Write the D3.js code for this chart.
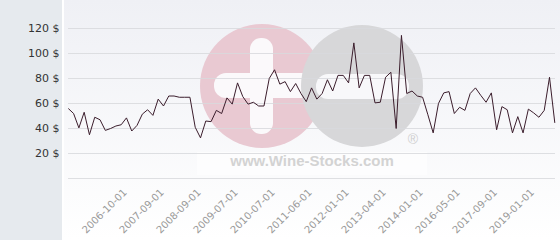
<!DOCTYPE html>
<html><head><meta charset="utf-8">
<script src="https://cdn.jsdelivr.net/npm/d3@7"></script>
<style>html,body{margin:0;padding:0;background:#fff;} svg{display:block;}</style>
</head><body>
<svg id="chart" width="560" height="240"></svg>
<script>
// price per point (USD), evenly spaced categories
const prices = [56,52,40.5,53,35,49,47,38.5,40,42,43,48.5,38,42.5,51.5,55,50.5,63.5,58,66,
  66,65,65,65,41,32.5,46,45.5,54.5,52,64.5,59.5,76.5,65.5,59.5,61,58,58,80,87,
  75.5,77.5,69.5,76,68,61.5,72.5,63.5,68,79,70,82.5,82.5,76.5,108.5,72.5,82.5,82.5,60.5,61,
  81,85,40,114.5,68,70,66,65,51,36.5,60,68.5,69.5,52,57,54.5,68,72.5,66.5,61,
  68.5,39,57.5,55,36.5,49.5,36.5,55.5,52.5,49,54.5,81,44.5];
const tickIndex = [11,18,25,32,39,46,53,60,67,74,81,88];
const tickLabels = ["2006-10-01","2007-09-01","2008-09-01","2009-07-01","2010-07-01","2011-06-01",
  "2012-01-01","2013-04-01","2014-01-01","2016-05-01","2017-09-01","2019-01-01"];
const yTicks = [0,20,40,60,80,100,120];
const watermark = "www.Wine-Stocks.com";

const svg = d3.select("#chart");
const W = 560, H = 240;
const defs = svg.append("defs");
const grad = defs.append("linearGradient").attr("id","bg").attr("x1",0).attr("y1",0).attr("x2",0).attr("y2",1);
grad.append("stop").attr("offset","0%").attr("stop-color","#eff0f5");
grad.append("stop").attr("offset","100%").attr("stop-color","#ffffff");

svg.append("rect").attr("x",0).attr("y",0).attr("width",W).attr("height",H).attr("fill","#ffffff");
svg.append("rect").attr("x",0).attr("y",0).attr("width",62).attr("height",H).attr("fill","#e6eaee");
svg.append("rect").attr("x",64).attr("y",0).attr("width",W-64).attr("height",H).attr("fill","url(#bg)");

const x = d3.scalePoint().domain(d3.range(prices.length)).range([68.3, 554.8]);
const y = d3.scaleLinear().domain([0,120]).range([178.5, 28.5]);

// watermark logo
const logo = svg.append("g");
logo.append("circle").attr("cx",262).attr("cy",86).attr("r",62).attr("fill","#e9c9d2");
logo.append("rect").attr("x",250).attr("y",38).attr("width",23).attr("height",96).attr("rx",11).attr("fill","#fbf9fb");
logo.append("rect").attr("x",214).attr("y",73).attr("width",100).attr("height",25).attr("rx",12).attr("fill","#fbf9fb");
logo.append("circle").attr("cx",362).attr("cy",86).attr("r",61).attr("fill","#d7d7d9");
logo.append("rect").attr("x",316).attr("y",74).attr("width",93).attr("height",25).attr("rx",12).attr("fill","#f8f8fa");
logo.append("rect").attr("x",197).attr("y",152).attr("width",230).attr("height",23).attr("fill","#ffffff").attr("opacity",0.6);
logo.append("text").attr("x",312).attr("y",166).attr("text-anchor","middle")
  .attr("font-family","Liberation Sans, Arial, sans-serif").attr("font-weight","bold").attr("font-size",15)
  .attr("fill","#d3d3d3").text(watermark);
logo.append("text").attr("x",413).attr("y",144).attr("text-anchor","middle")
  .attr("font-family","Liberation Sans, Arial, sans-serif").attr("font-size",14)
  .attr("fill","#cfcfcf").text("®");

// gridlines
svg.append("g").selectAll("line").data(yTicks).join("line")
  .attr("x1",68).attr("x2",555).attr("y1",d=>y(d)).attr("y2",d=>y(d))
  .attr("stroke","#d8d9dd").attr("stroke-opacity",0.85).attr("stroke-width",1);

// y labels
svg.append("g").selectAll("text").data(yTicks.filter(d=>d>0)).join("text")
  .attr("x",59.5).attr("y",d=>y(d)+3).attr("text-anchor","end")
  .attr("font-family","DejaVu Sans, sans-serif").attr("font-size",11).attr("fill","#333")
  .text(d=>d+" $");

// x labels
svg.append("g").selectAll("text").data(tickIndex).join("text")
  .attr("transform",d=>`translate(${x(d)+1},${193}) rotate(-45)`)
  .attr("text-anchor","end")
  .attr("font-family","DejaVu Sans, sans-serif").attr("font-size",10).attr("fill","#999")
  .text((d,i)=>tickLabels[i]);

// line
const line = d3.line().x((d,i)=>x(i)).y(d=>y(d));
svg.append("path").datum(prices).attr("d",line).attr("fill","none")
  .attr("stroke","#3b1d2c").attr("stroke-width",1).attr("stroke-linejoin","miter");
</script>
</body></html>
